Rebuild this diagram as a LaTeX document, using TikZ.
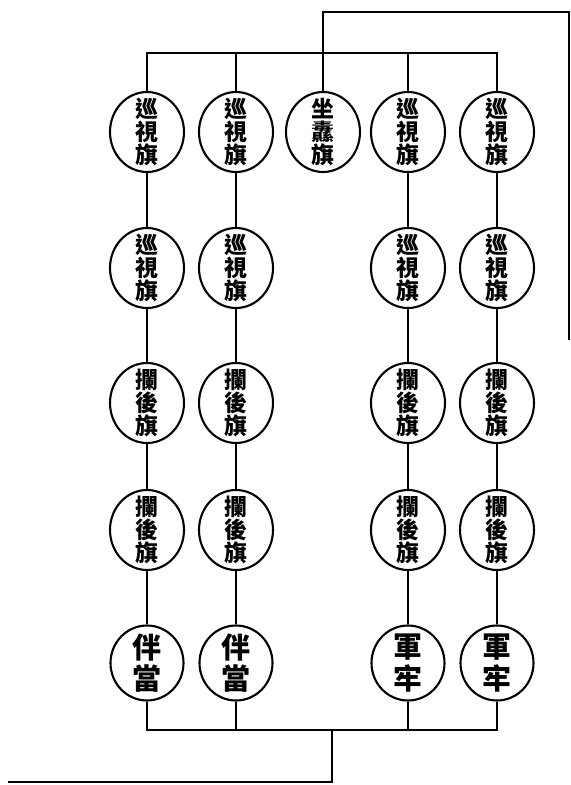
\documentclass[tikz,border=0pt]{standalone}
\usepackage{fontspec}
\newfontfamily\cjk{Noto Sans CJK TC}
\usetikzlibrary{shapes.geometric}
\begin{document}
\begin{tikzpicture}[x=0.02cm,y=-0.02cm,
  flag/.style={draw,ellipse,line width=1.2pt,minimum width=1.48cm,minimum height=1.6cm,inner sep=0pt,
               label={[font=\cjk\bfseries\fontsize{13}{13}\selectfont,align=center]center:#1}},
  guard/.style={draw,ellipse,line width=1.2pt,minimum width=1.46cm,minimum height=1.5cm,inner sep=0pt,
               label={[font=\cjk\bfseries\fontsize{16.5}{18}\selectfont,align=center]center:#1}},
  link/.style={line width=1.2pt}]
\useasboundingbox (0,0) rectangle (571,785);
\def\A{147}\def\B{236}\def\C{323}\def\D{408}\def\E{497}
\coordinate (barT) at (0,53); \coordinate (barB) at (0,730);
\coordinate (fT) at (\C,12); \coordinate (fR) at (569,12); \coordinate (fRe) at (569,340);
\coordinate (fJ) at (332,730); \coordinate (fB) at (332,782); \coordinate (fL) at (8,782);

\node[flag={坐\\纛\\旗}](C1) at (\C,132){};
\foreach \c/\x/\u/\v in {A/\A/伴/當,B/\B/伴/當,D/\D/軍/牢,E/\E/軍/牢}{
  \node[flag={巡\\視\\旗}](\c1) at (\x,132){};
  \node[flag={巡\\視\\旗}](\c2) at (\x,268){};
  \node[flag={攔\\後\\旗}](\c3) at (\x,403){};
  \node[flag={攔\\後\\旗}](\c4) at (\x,530){};
  \node[guard={\u\\\v}](\c5) at (\x,663){};
  \draw[link](\c1)--(\c2)--(\c3)--(\c4)--(\c5);
}
% top and bottom bars
\draw[link](A1)--(A1 |- barT)--(E1 |- barT)--(E1);
\draw[link](A5)--(A5 |- barB)--(E5 |- barB)--(E5);
\foreach \c in {B,D}{
  \draw[link](\c1)--(\c1 |- barT);
  \draw[link](\c5)--(\c5 |- barB);
}
\draw[link](C1)--(fT)--(fR)--(fRe);
\draw[link](fJ)--(fB)--(fL);
\end{tikzpicture}
\end{document}
